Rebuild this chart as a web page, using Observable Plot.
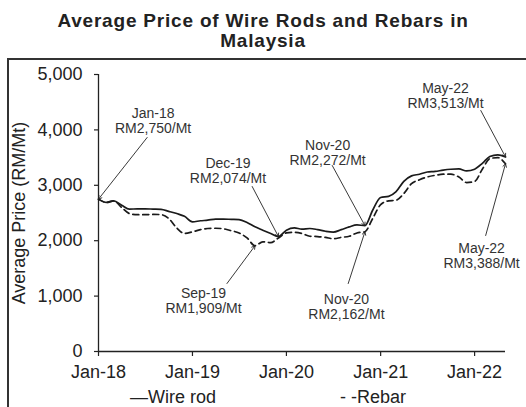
<!DOCTYPE html>
<html><head><meta charset="utf-8">
<script src="https://cdn.jsdelivr.net/npm/d3@7"></script>
<script src="https://cdn.jsdelivr.net/npm/@observablehq/plot@0.6"></script>
<style>
body{margin:0;background:#fff;font-family:"Liberation Sans",Arimo,sans-serif;}
#wrap{position:relative;width:526px;height:407px;overflow:hidden;background:#fff;}
#title{position:absolute;left:0;top:11px;width:526px;text-align:center;font-weight:bold;font-size:19px;line-height:20px;color:#222;letter-spacing:0.8px;}
#frame{position:absolute;left:7px;top:58px;width:700px;height:500px;border-top:2px solid #333;border-left:2px solid #333;}
#chart{position:absolute;left:0;top:58px;}
#legend{position:absolute;left:0;top:388px;width:526px;height:20px;font-size:18px;line-height:18px;color:#222;}
#legend span{position:absolute;top:0;white-space:pre;}
</style></head>
<body>
<div id="wrap">
  <div id="title">Average Price of Wire Rods and Rebars in<br>Malaysia</div>
  <div id="frame"></div>
  <div id="chart"></div>
  <div id="legend"><span style="left:130px">—Wire rod</span><span style="left:340px">- -Rebar</span></div>
</div>
<script>
// Monthly series, Jan-18 .. May-22
const firstMonth = [2018, 0];
const wireRod = [2750,2690,2720,2640,2570,2575,2575,2570,2565,2530,2490,2440,
  2340,2360,2370,2390,2390,2385,2380,2330,2250,2190,2130,2074,
  2190,2230,2210,2220,2200,2170,2155,2200,2250,2285,2272,2550,
  2780,2800,2880,3070,3170,3200,3240,3250,3275,3290,3295,3260,
  3290,3400,3520,3550,3513];
const rebar = [2750,2690,2720,2600,2490,2470,2470,2475,2470,2400,2230,2130,
  2160,2200,2220,2225,2215,2180,2140,2050,1909,1980,1965,2050,
  2140,2150,2130,2080,2075,2060,2035,2060,2080,2140,2162,2400,
  2650,2720,2730,2850,3030,3100,3150,3180,3200,3200,3150,3050,
  3070,3300,3480,3500,3388];
const yTicks = [0,1000,2000,3000,4000,5000];
const xTickYears = [2018,2019,2020,2021,2022];

// Annotations
const annText = ["Jan-18\nRM2,750/Mt","Dec-19\nRM2,074/Mt","Sep-19\nRM1,909/Mt","Nov-20\nRM2,272/Mt","Nov-20\nRM2,162/Mt","May-22\nRM3,513/Mt","May-22\nRM3,388/Mt"];
const annLabelDate = ["2018-08-01","2019-05-19","2019-02-13","2020-06-09","2020-08-21","2021-09-10","2022-01-28"];
const annLabelValue = [4161,3258,912,3592,812,4621,1733];
const annFromDate = ["2018-07-09","2019-08-21","2019-05-15","2020-06-27","2020-08-28","2022-01-25","2022-02-13"];
const annFromValue = [3863,2978,1227,3357,1227,4350,2094];
const annToDate = ["2018-01-01","2019-12-01","2019-09-01","2020-11-01","2020-11-01","2022-05-01","2022-05-01"];
const annToValue = [2750,2074,1909,2272,2162,3513,3388];

const monthDate = i => new Date(Date.UTC(firstMonth[0], firstMonth[1] + i, 1));
const data = [];
wireRod.forEach((v,i) => data.push({date: monthDate(i), value: v, series: "Wire rod"}));
rebar.forEach((v,i) => data.push({date: monthDate(i), value: v, series: "Rebar"}));
const ann = annText.map((t,i) => ({
  text: t,
  lx: new Date(annLabelDate[i]), ly: annLabelValue[i],
  fx: new Date(annFromDate[i]), fy: annFromValue[i],
  tx: new Date(annToDate[i]), ty: annToValue[i]
}));
const x0 = monthDate(0), x1 = monthDate(wireRod.length - 1);

const chart = Plot.plot({
  width: 526, height: 327,
  marginLeft: 98, marginRight: 21, marginTop: 16, marginBottom: 34,
  style: {fontFamily: "'Liberation Sans', Arimo, sans-serif", fontSize: "18px", color: "#222", background: "transparent"},
  x: {type: "utc", domain: [x0, x1]},
  y: {domain: [0, 5000]},
  marks: [
    Plot.axisX(xTickYears.map(y => new Date(Date.UTC(y,0,1))), {
      tickSize: 5, tickPadding: 9, label: null, stroke: "#222", strokeWidth: 1.2,
      tickFormat: d => "Jan-" + String(d.getUTCFullYear()).slice(2)
    }),
    Plot.axisY(yTicks, {
      tickSize: 4, tickPadding: 12, stroke: "#222", strokeWidth: 1.2,
      tickFormat: d => d3.format(",")(d),
      label: "Average Price (RM/Mt)", labelAnchor: "center", labelArrow: "none", labelOffset: 86
    }),
    Plot.ruleY([0], {stroke: "#222", strokeWidth: 1.3}),
    Plot.ruleX([x0], {y1: 0, y2: 5000, stroke: "#222", strokeWidth: 1.3}),
    Plot.line(data.filter(d => d.series === "Rebar"), {x: "date", y: "value", stroke: "#1a1a1a", strokeWidth: 1.7, strokeDasharray: "6,4", curve: "monotone-x"}),
    Plot.line(data.filter(d => d.series === "Wire rod"), {x: "date", y: "value", stroke: "#1a1a1a", strokeWidth: 1.7, curve: "monotone-x"}),
    Plot.arrow(ann, {x1: "fx", y1: "fy", x2: "tx", y2: "ty", stroke: "#222", strokeWidth: 0.9, headLength: 6}),
    Plot.text(ann, {x: "lx", y: "ly", text: "text", fontSize: 14, fill: "#333", lineAnchor: "middle", lineHeight: 1.07})
  ]
});
document.getElementById("chart").appendChild(chart);
</script>
</body></html>
